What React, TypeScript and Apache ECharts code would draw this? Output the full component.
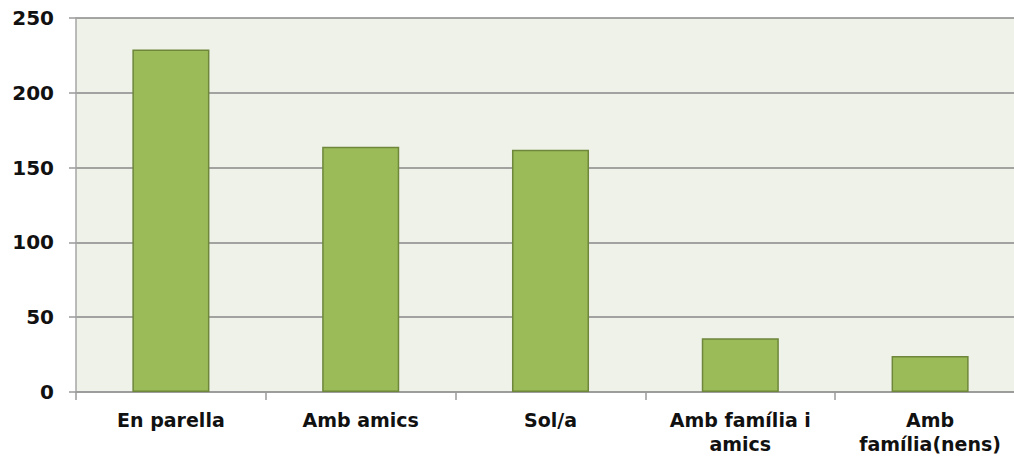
import React, { useEffect, useRef } from "react";
import * as echarts from "echarts";

const categories = [
  "En parella",
  "Amb amics",
  "Sol/a",
  "Amb família i\namics",
  "Amb\nfamília(nens)",
];
const counts = [229, 164, 162, 36, 24];
const yTicks = { min: 0, max: 250, interval: 50 };

export default function App() {
  const ref = useRef<HTMLDivElement>(null);

  useEffect(() => {
    if (!ref.current) return;
    const chart = echarts.init(ref.current, undefined, { renderer: "svg" });
    const font = "'DejaVu Sans', Verdana, sans-serif";
    chart.setOption({
      animation: false,
      grid: { left: 76, top: 18, width: 949, height: 374, backgroundColor: "#EFF2E9", show: true, borderWidth: 0 },
      xAxis: {
        type: "category",
        data: categories,
        axisLine: { show: true, lineStyle: { color: "#9a9a9a", width: 1.5 } },
        axisTick: { show: true, length: 8, lineStyle: { color: "#9a9a9a", width: 1.5 } },
        axisLabel: {
          interval: 0,
          margin: 16,
          color: "#111",
          fontFamily: font,
          fontWeight: "bold",
          fontSize: 19,
          lineHeight: 24,
        },
      },
      yAxis: {
        type: "value",
        min: yTicks.min,
        max: yTicks.max,
        interval: yTicks.interval,
        axisLine: { show: true, lineStyle: { color: "#a6a6a6", width: 1.5 } },
        axisTick: { show: true, length: 7, lineStyle: { color: "#9a9a9a", width: 1.5 } },
        splitLine: { show: true, lineStyle: { color: "#898989", width: 1.7 } },
        axisLabel: {
          margin: 22,
          color: "#111",
          fontFamily: font,
          fontWeight: "bold",
          fontSize: 20,
        },
      },
      series: [
        {
          type: "bar",
          data: counts,
          barWidth: "40.6%",
          itemStyle: { color: "#9BBB59", borderColor: "#6E873B", borderWidth: 1.5 },
        },
      ],
    });
    return () => chart.dispose();
  }, []);

  return (
    <div style={{ position: "fixed", left: 0, top: 0, width: 1014, height: 459, overflow: "hidden", background: "#fff" }}>
      <div ref={ref} style={{ width: 1040, height: 459 }} />
    </div>
  );
}
